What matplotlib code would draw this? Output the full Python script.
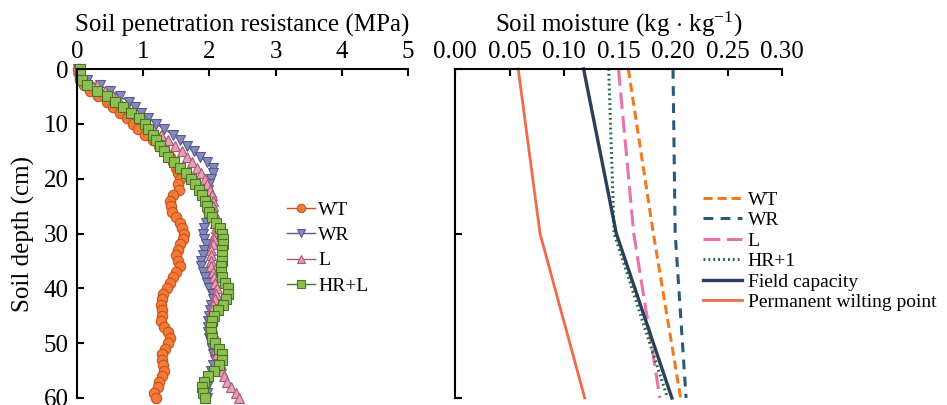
import matplotlib.pyplot as plt
import numpy as np

plt.rcParams['font.family'] = ['Liberation Serif', 'DejaVu Serif']
plt.rcParams['mathtext.fontset'] = 'custom'
plt.rcParams['mathtext.rm'] = 'Liberation Serif'
plt.rcParams['mathtext.it'] = 'Liberation Serif:italic'

# soil penetration resistance (MPa), one reading per cm depth
depth = list(range(61))
wt = [0.02, 0.03, 0.05, 0.10, 0.20, 0.32, 0.45, 0.55, 0.65, 0.75,
      0.84, 0.92, 1.03, 1.15, 1.24, 1.32, 1.40, 1.45, 1.49, 1.52,
      1.55, 1.52, 1.54, 1.45, 1.40, 1.42, 1.43, 1.50, 1.56, 1.58,
      1.61, 1.60, 1.56, 1.52, 1.50, 1.53, 1.55, 1.50, 1.45, 1.40,
      1.36, 1.30, 1.28, 1.27, 1.28, 1.28, 1.27, 1.32, 1.38, 1.40,
      1.38, 1.33, 1.28, 1.28, 1.30, 1.32, 1.28, 1.24, 1.22, 1.17, 1.20]
wr = [0.02, 0.05, 0.15, 0.35, 0.50, 0.65, 0.78, 0.88, 0.97, 1.08,
      1.20, 1.32, 1.45, 1.56, 1.66, 1.76, 1.86, 1.96, 2.05, 2.05,
      2.02, 2.00, 1.98, 1.98, 2.02, 2.03, 2.02, 1.98, 1.95, 1.92,
      1.90, 1.92, 1.95, 1.92, 1.90, 1.88, 1.88, 1.90, 1.93, 1.97,
      2.00, 2.05, 2.06, 2.03, 2.01, 1.99, 1.98, 1.98, 1.98, 2.00,
      2.02, 2.04, 2.06, 2.08, 2.05, 2.02, 1.99, 1.97, 1.96, 1.96, 1.96]
l = [0.02, 0.05, 0.12, 0.30, 0.42, 0.55, 0.65, 0.75, 0.85, 0.95,
     1.05, 1.15, 1.27, 1.38, 1.48, 1.58, 1.66, 1.74, 1.82, 1.88,
     1.93, 1.97, 2.01, 2.04, 2.06, 2.06, 2.07, 2.08, 2.09, 2.10,
     2.09, 2.07, 2.05, 2.03, 2.02, 2.02, 2.03, 2.05, 2.07, 2.09,
     2.11, 2.10, 2.08, 2.06, 2.04, 2.03, 2.03, 2.04, 2.05, 2.06,
     2.08, 2.10, 2.12, 2.15, 2.17, 2.19, 2.22, 2.27, 2.33, 2.40, 2.45]
hrl = [0.05, 0.05, 0.07, 0.15, 0.30, 0.45, 0.58, 0.70, 0.82, 0.93,
       1.02, 1.08, 1.15, 1.20, 1.25, 1.32, 1.38, 1.46, 1.56, 1.65,
       1.72, 1.78, 1.84, 1.89, 1.93, 1.97, 2.00, 2.04, 2.10, 2.16,
       2.19, 2.21, 2.20, 2.19, 2.19, 2.19, 2.18, 2.17, 2.19, 2.23,
       2.28, 2.28, 2.25, 2.20, 2.13, 2.07, 2.04, 2.03, 2.03, 2.04,
       2.08, 2.15, 2.19, 2.19, 2.15, 2.07, 1.98, 1.92, 1.89, 1.90, 1.93]

# soil moisture (kg/kg)
m_depth = [0, 30, 60]
m_wt = [0.159, 0.182, 0.207]
m_wr = [0.200, 0.202, 0.212]
m_l = [0.150, 0.164, 0.188]
m_hr1 = [0.141, 0.146, 0.195]
field_cap = [0.118, 0.148, 0.199]
wilting = [0.058, 0.078, 0.119]

fig = plt.figure(figsize=(9.47, 4.05), dpi=100)
W, H = 947, 405
ax1 = fig.add_axes([77 / W, 1 - 398 / H, (408 - 77) / W, (398 - 69) / H])
ax2 = fig.add_axes([455 / W, 1 - 398 / H, (782 - 455) / W, (398 - 69) / H])

fs = 18
for ax in (ax1, ax2):
    ax.xaxis.tick_top()
    ax.xaxis.set_label_position('top')
    ax.spines['bottom'].set_visible(False)
    ax.spines['right'].set_visible(False)
    ax.spines['top'].set_linewidth(1.5)
    ax.spines['left'].set_linewidth(1.5)
    ax.tick_params(direction='in', length=5, width=1.5, labelsize=fs, pad=4)
    ax.tick_params(axis='y', pad=6)
    ax.set_ylim(60, 0)

series = [
    (wt, 'WT', 'o', '#f47a36', '#c5531f'),
    (wr, 'WR', 'v', '#8689bd', '#565a8c'),
    (l, 'L', '^', '#e89db6', '#a65a76'),
    (hrl, 'HR+L', 's', '#8dc050', '#4b7329'),
]
for vals, lab, mk, fc, ec in series:
    ax1.plot(vals, depth, color=ec, lw=1, marker=mk, ms=7.5, mfc=fc, mec=ec,
             mew=0.8, label=lab, clip_on=False)

ax1.set_xlim(0, 5)
ax1.set_xticks([0, 1, 2, 3, 4, 5])
ax1.set_yticks([0, 10, 20, 30, 40, 50, 60])
ax1.set_xlabel('Soil penetration resistance (MPa)', fontsize=fs, labelpad=7)
ax1.set_ylabel('Soil depth (cm)', fontsize=fs, labelpad=6)
ax1.legend(loc='upper left', bbox_to_anchor=(287 / W, 1 - 201 / H),
           bbox_transform=fig.transFigure, frameon=False, fontsize=14,
           borderpad=0, borderaxespad=0, handlelength=1.45, markerscale=0.8,
           handletextpad=0.15, labelspacing=0.4)

ax2.plot(m_wt, m_depth, color='#ef7a22', lw=2.2, dashes=(3, 1.6), label='WT', clip_on=False)
ax2.plot(m_wr, m_depth, color='#2b5a78', lw=2.2, dashes=(3.2, 2.4), label='WR', clip_on=False)
ax2.plot(m_l, m_depth, color='#e673aa', lw=2.2, dashes=(5.5, 2.2), label='L', clip_on=False)
ax2.plot(m_hr1, m_depth, color='#1f6b48', lw=2.2, dashes=(0.6, 1.0), label='HR+1', clip_on=False)
ax2.plot(field_cap, m_depth, color='#2c3e5c', lw=2.4, label='Field capacity', clip_on=False)
ax2.plot(wilting, m_depth, color='#f06a4c', lw=2.0, label='Permanent wilting point', clip_on=False)

ax2.set_xlim(0, 0.30)
ax2.set_xticks([0.00, 0.05, 0.10, 0.15, 0.20, 0.25, 0.30])
ax2.set_xticklabels(['0.00', '0.05', '0.10', '0.15', '0.20', '0.25', '0.30'])
ax2.set_yticks([0, 30, 60])
ax2.set_yticklabels([])
ax2.set_xlabel('Soil moisture (kg$\\,\\cdot\\,$kg$^{-1}$)', fontsize=fs, labelpad=7)
ax2.legend(loc='upper left', bbox_to_anchor=(703 / W, 1 - 191 / H),
           bbox_transform=fig.transFigure, frameon=False, fontsize=14,
           borderpad=0, borderaxespad=0, handlelength=2.0,
           handletextpad=0.3, labelspacing=0.15)

fig.savefig('out.png', dpi=100)
